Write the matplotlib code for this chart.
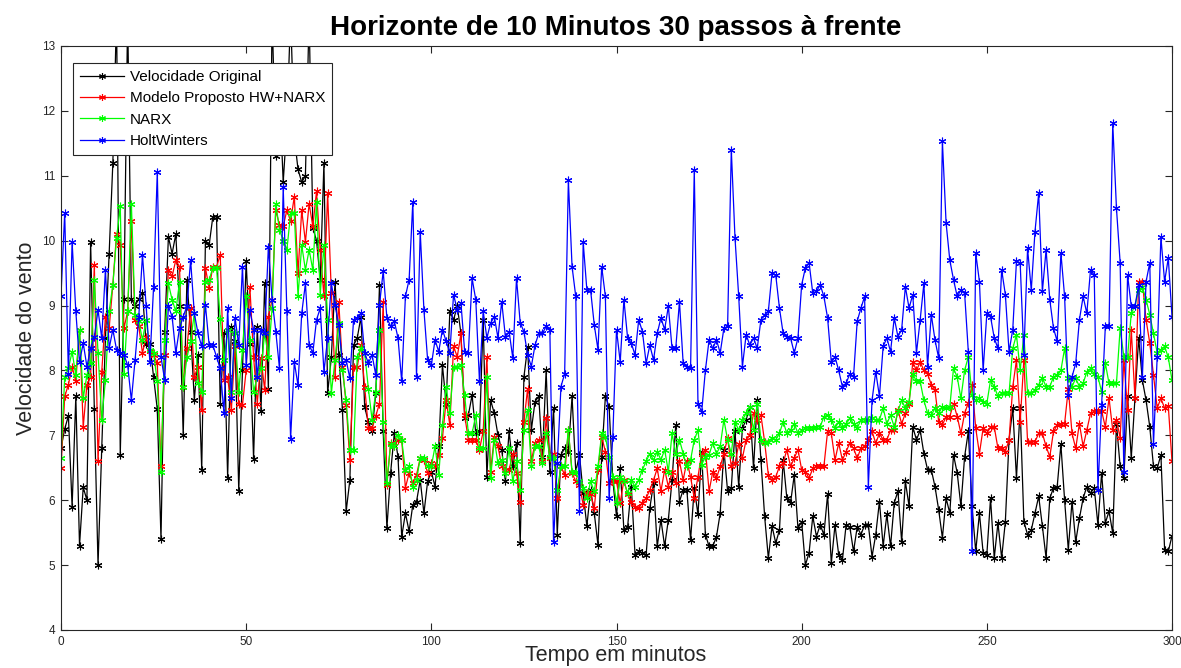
import matplotlib
matplotlib.use("Agg")
import matplotlib.pyplot as plt
import numpy as np

plt.rcParams['font.family'] = ['Liberation Sans', 'DejaVu Sans']

title = "Horizonte de 10 Minutos 30 passos à frente"
xlabel = "Tempo em minutos"
ylabel = "Velocidade do vento"
labels = ["Velocidade Original", "Modelo Proposto HW+NARX", "NARX", "HoltWinters"]
xticks = [0, 50, 100, 150, 200, 250, 300]
yticks = [4, 5, 6, 7, 8, 9, 10, 11, 12, 13]

original = [
    6.8, 7.1, 7.3, 5.9, 7.6, 5.3, 6.2, 6.0, 9.98, 7.4,
    5.0, 6.8, 8.5, 9.8, 11.2, 13.5, 6.7, 9.1, 13.5, 9.1,
    9.0, 9.1, 9.2, 8.4, 8.4, 7.9, 7.4, 5.4, 8.6, 10.06,
    9.8, 10.1, 9.0, 7.0, 9.4, 8.6, 7.55, 8.24, 6.47, 10.0,
    9.93, 10.37, 10.37, 7.48, 8.57, 6.35, 8.67, 8.46, 6.14, 8.0,
    9.68, 8.41, 6.64, 8.67, 7.37, 9.34, 7.72, 13.5, 11.3, 12.3,
    10.9, 11.8, 13.5, 11.6, 11.1, 10.9, 11.0, 13.5, 10.2, 10.0,
    9.4, 11.2, 7.65, 8.2, 9.37, 8.24, 7.39, 5.83, 6.31, 8.39,
    8.5, 8.83, 7.44, 7.2, 7.06, 7.65, 9.31, 7.06, 5.57, 6.42,
    7.03, 6.67, 5.44, 5.8, 5.52, 5.93, 5.98, 6.31, 5.8, 6.29,
    6.44, 6.21, 6.83, 8.08, 7.49, 8.91, 8.78, 8.99, 8.57, 7.26,
    7.31, 7.62, 7.03, 7.06, 8.78, 6.36, 7.54, 7.34, 7.0, 6.78,
    6.29, 7.06, 6.52, 6.88, 5.34, 7.9, 8.36, 7.08, 7.52, 7.6,
    6.67, 8.0, 6.44, 7.42, 5.47, 6.7, 6.8, 6.75, 7.6, 6.44,
    6.7, 6.11, 5.6, 6.16, 5.8, 5.31, 6.67, 7.6, 7.44, 6.31,
    5.75, 6.49, 5.54, 5.59, 6.21, 5.16, 5.21, 5.19, 5.16, 5.88,
    6.26, 5.29, 5.7, 5.29, 5.7, 6.31, 7.16, 5.98, 6.16, 6.16,
    5.39, 6.19, 5.78, 6.75, 5.47, 5.29, 5.29, 5.44, 5.8, 6.78,
    6.14, 6.19, 7.06, 6.21, 7.11, 7.24, 7.44, 6.49, 7.54, 6.62,
    5.75, 5.11, 5.6, 5.34, 5.54, 6.62, 6.03, 5.96, 6.39, 5.57,
    5.67, 5.0, 5.19, 5.75, 5.44, 5.62, 5.47, 6.09, 5.03, 5.62,
    5.16, 5.08, 5.62, 5.59, 5.21, 5.59, 5.47, 5.62, 5.62, 5.13,
    5.47, 5.98, 5.29, 5.78, 5.29, 5.96, 6.14, 5.36, 6.29, 5.91,
    7.13, 6.93, 7.08, 6.72, 6.47, 6.47, 6.21, 5.85, 5.42, 6.03,
    5.8, 6.7, 6.42, 5.91, 6.67, 7.06, 5.91, 5.21, 5.8, 5.19,
    5.16, 6.03, 5.11, 5.65, 5.11, 5.67, 6.93, 7.42, 6.34, 7.42,
    5.67, 5.47, 5.54, 5.8, 6.06, 5.6, 5.11, 6.03, 6.19, 6.21,
    6.86, 6.0, 5.24, 5.98, 5.36, 5.72, 6.03, 6.21, 6.11, 6.19,
    5.62, 6.42, 5.65, 5.83, 5.49, 7.18, 6.52, 6.34, 7.6, 6.65,
    7.57, 8.5, 7.85, 7.54, 7.13, 6.52, 6.49, 6.7, 5.24, 5.21,
    5.45,
]

hw_narx = [
    6.5, 7.6, 7.78, 8.06, 7.83, 8.63, 7.13, 7.78, 7.9, 9.63,
    6.6, 7.98, 8.83, 8.65, 9.32, 10.11, 9.93, 8.65, 8.91, 10.3,
    8.78, 8.68, 8.27, 8.52, 8.3, 8.24, 8.11, 6.52, 8.24, 9.55,
    9.45, 9.7, 9.6, 7.75, 8.34, 8.96, 7.9, 8.06, 7.39, 9.58,
    9.27, 9.6, 9.6, 9.78, 7.85, 7.9, 7.39, 8.37, 7.49, 7.47,
    8.0, 9.29, 8.21, 7.49, 8.19, 7.7, 8.83, 9.09, 10.47, 10.24,
    10.22, 10.47, 10.3, 10.68, 9.5, 10.47, 9.98, 10.57, 10.22, 10.76,
    9.86, 9.14, 10.73, 9.19, 7.9, 9.06, 8.06, 7.47, 6.62, 8.06,
    8.06, 8.39, 7.75, 7.11, 7.11, 7.3, 7.49, 9.06, 6.24, 6.88,
    6.83, 6.93, 6.93, 6.19, 6.42, 6.26, 6.39, 6.65, 6.62, 6.42,
    6.57, 6.52, 6.7, 6.96, 7.54, 7.16, 8.37, 8.21, 8.57, 7.31,
    6.93, 6.93, 6.93, 6.78, 7.06, 8.21, 6.44, 6.98, 6.83, 6.52,
    6.47, 6.47, 6.72, 6.42, 5.98, 7.21, 7.72, 6.6, 6.88, 6.93,
    6.6, 7.26, 6.65, 6.72, 6.03, 6.52, 6.39, 7.08, 6.42, 6.29,
    6.24, 5.93, 6.11, 6.09, 5.88, 6.47, 6.98, 6.75, 6.26, 6.29,
    6.29, 5.96, 6.31, 6.09, 5.98, 5.9, 5.88, 5.96, 6.03, 6.16,
    6.31, 6.49, 6.14, 6.47, 6.21, 6.44, 6.26, 6.6, 6.31, 6.6,
    6.36, 6.03, 6.36, 6.72, 6.78, 6.14, 6.44, 6.34, 6.52, 6.72,
    6.96, 6.52, 6.57, 6.86, 6.65, 6.93, 7.01, 7.34, 7.24, 7.31,
    6.9, 6.39, 6.31, 6.36, 6.52, 6.57, 6.78, 6.52, 6.65, 6.78,
    6.47, 6.44, 6.34, 6.49, 6.52, 6.52, 6.52, 7.06, 7.03, 6.62,
    6.88, 6.62, 6.75, 6.88, 6.8, 6.65, 6.8, 6.83, 6.93, 7.06,
    6.88, 7.03, 6.93, 6.93, 7.08, 7.08, 7.39, 7.18, 7.34, 7.49,
    8.13, 8.0, 8.13, 8.0, 7.95, 7.78, 7.7, 7.21, 7.16, 7.29,
    7.29, 7.49, 7.29, 7.03, 7.34, 7.5, 7.78, 7.11, 6.72, 7.11,
    7.03, 7.13, 7.13, 6.8, 6.8, 6.75, 6.93, 7.75, 8.16, 7.21,
    8.16, 6.9, 6.9, 6.9, 7.03, 7.03, 6.83, 6.67, 7.06, 7.16,
    7.18, 7.18, 7.72, 7.03, 6.8, 7.18, 6.83, 7.08, 7.34, 7.37,
    7.37, 7.37, 7.13, 7.57, 7.08, 7.24, 6.96, 8.16, 7.39, 8.63,
    7.57, 9.37, 9.37, 8.78, 8.42, 7.93, 7.42, 7.57, 7.42, 7.45,
    6.6,
]

narx = [
    6.65, 7.9, 8.03, 8.29, 7.93, 8.63, 7.57, 7.93, 8.11, 9.4,
    8.27, 7.24, 7.85, 8.91, 9.32, 10.04, 10.53, 7.95, 8.91, 10.57,
    8.86, 8.76, 8.47, 8.78, 8.32, 8.27, 7.83, 6.44, 8.47, 9.34,
    9.09, 8.91, 9.37, 7.75, 8.2, 8.45, 8.88, 7.8, 7.67, 9.37,
    9.4, 9.58, 9.58, 8.8, 8.16, 8.63, 7.67, 8.57, 7.67, 8.32,
    9.14, 8.47, 7.67, 7.9, 8.03, 8.57, 8.21, 8.96, 10.57, 10.17,
    10.0, 9.86, 10.42, 10.42, 9.14, 9.93, 9.55, 9.86, 9.55, 10.6,
    9.17, 9.93, 8.78, 7.65, 8.16, 8.73, 8.0, 7.54, 6.78, 6.78,
    8.21, 8.34, 8.27, 7.72, 7.24, 7.67, 8.63, 7.21, 6.26, 6.86,
    6.83, 7.01, 6.93, 6.47, 6.52, 6.21, 6.31, 6.65, 6.65, 6.52,
    6.52, 6.83, 6.39, 7.16, 7.75, 7.34, 8.06, 8.06, 8.08, 7.62,
    7.03, 7.03, 7.31, 6.8, 6.8, 7.9, 6.34, 6.93, 6.57, 6.62,
    6.42, 6.8, 6.29, 6.6, 6.16, 7.08, 7.39, 6.52, 6.83, 6.83,
    6.57, 7.03, 6.67, 6.65, 6.16, 6.52, 6.52, 7.08, 6.44, 6.44,
    6.29, 6.19, 6.03, 6.29, 6.14, 6.52, 7.03, 6.98, 6.67, 6.36,
    5.96, 6.36, 6.29, 6.11, 6.31, 6.21, 6.31, 6.47, 6.6, 6.72,
    6.62, 6.75, 6.62, 6.78, 6.44, 7.03, 6.72, 6.93, 6.72, 6.52,
    6.62, 6.93, 7.08, 6.55, 6.67, 6.7, 6.88, 6.72, 6.83, 7.24,
    6.93, 6.72, 7.21, 7.08, 7.24, 7.34, 7.44, 7.08, 7.49, 6.93,
    6.88, 6.9, 6.96, 6.93, 7.03, 7.21, 7.03, 7.08, 7.18, 7.03,
    7.08, 7.11, 7.11, 7.11, 7.13, 7.13, 7.29, 7.31, 7.24, 7.11,
    7.21, 7.11, 7.18, 7.26, 7.18, 7.11, 7.24, 7.24, 7.24, 7.26,
    7.24, 7.24, 7.42, 7.18, 7.31, 7.13, 7.37, 7.54, 7.42, 7.52,
    7.95, 7.83, 7.83, 7.54, 7.34, 7.31, 7.42, 7.34, 7.44, 7.42,
    7.44, 8.03, 7.9, 7.57, 8.0, 8.21, 7.62, 7.54, 7.57, 7.52,
    7.49, 7.85, 7.75, 7.6, 7.65, 7.65, 7.65, 8.34, 8.55, 8.0,
    8.55, 7.65, 7.65, 7.7, 7.78, 7.88, 7.75, 7.75, 7.9, 7.93,
    8.0, 8.34, 7.88, 7.75, 7.88, 7.75, 7.8, 7.98, 8.03, 7.95,
    7.9, 7.67, 8.11, 7.8, 7.8, 7.8, 8.65, 8.21, 8.21, 8.88,
    9.0, 9.24, 9.29, 9.09, 8.86, 8.57, 8.27, 8.32, 8.37, 8.2,
    7.85,
]

holtwinters = [
    9.15, 10.43, 7.94, 9.98, 8.91, 8.13, 8.42, 8.06, 8.34, 8.52,
    8.93, 8.5, 9.55, 8.34, 8.63, 8.32, 8.27, 8.24, 8.08, 7.54,
    8.16, 8.83, 9.78, 8.99, 8.13, 9.29, 11.06, 8.21, 7.85, 8.99,
    8.83, 8.27, 8.65, 8.83, 8.99, 9.7, 8.88, 8.57, 8.37, 9.01,
    8.39, 8.39, 8.21, 8.03, 7.34, 8.96, 7.57, 8.81, 8.39, 9.6,
    8.08, 8.93, 8.63, 7.9, 8.63, 8.57, 9.91, 9.09, 8.6, 8.03,
    10.83, 8.91, 6.95, 8.13, 7.77, 8.88, 9.34, 8.39, 8.27, 8.78,
    8.96, 7.98, 8.5, 9.34, 9.01, 8.7, 8.11, 8.16, 7.88, 8.78,
    8.81, 8.88, 8.27, 8.11, 8.24, 7.93, 9.01, 9.53, 8.81, 8.68,
    8.76, 8.5, 7.83, 9.14, 9.4, 10.6, 7.9, 10.14, 8.93, 8.16,
    8.08, 8.47, 8.29, 8.63, 8.45, 8.27, 9.17, 8.93, 9.04, 8.29,
    8.27, 9.42, 9.09, 7.83, 8.91, 8.5, 8.73, 8.83, 8.5, 9.06,
    8.52, 8.6, 8.19, 9.42, 8.73, 8.6, 8.24, 8.06, 8.39, 8.57,
    8.57, 8.68, 8.63, 5.36, 6.57, 7.75, 7.95, 10.93, 9.6, 9.14,
    5.83, 9.98, 9.24, 9.24, 8.7, 8.32, 9.6, 9.14, 6.03, 6.98,
    8.63, 8.13, 9.09, 8.5, 8.42, 8.24, 8.78, 8.6, 8.11, 8.39,
    8.16, 8.57, 8.81, 8.63, 8.99, 8.34, 8.34, 9.06, 8.11, 8.06,
    8.03, 11.09, 7.49, 7.36, 8.0, 8.47, 8.34, 8.47, 8.27, 8.65,
    8.68, 11.4, 10.04, 9.14, 8.06, 8.55, 8.39, 8.5, 8.34, 8.78,
    8.86, 8.91, 9.5, 9.47, 8.96, 8.57, 8.52, 8.5, 8.27, 8.5,
    9.32, 9.58, 9.66, 9.19, 9.22, 9.32, 9.14, 8.81, 8.13, 8.21,
    8.0, 7.75, 7.8, 7.95, 7.9, 8.76, 8.96, 9.14, 6.2, 7.54,
    7.98, 7.6, 8.37, 8.5, 8.29, 8.81, 8.52, 8.63, 9.29, 8.96,
    9.17, 8.27, 8.78, 9.34, 8.06, 8.86, 8.47, 8.19, 11.53, 10.27,
    9.7, 9.4, 9.14, 9.24, 9.19, 8.29, 5.21, 9.81, 9.37, 8.0,
    8.88, 8.83, 8.5, 8.34, 9.55, 9.17, 8.29, 8.63, 9.68, 9.66,
    8.24, 9.88, 9.24, 10.14, 10.73, 9.22, 9.86, 9.09, 8.65, 8.45,
    9.81, 9.14, 7.62, 7.9, 8.11, 8.78, 9.14, 8.88, 9.55, 9.47,
    6.16, 7.47, 8.68, 8.68, 11.81, 10.5, 9.66, 6.44, 9.47, 8.99,
    8.99, 9.32, 7.9, 9.37, 9.66, 6.86, 8.21, 10.06, 9.37, 9.73,
    8.83,
]

series = [original, hw_narx, narx, holtwinters]
colors = ['#000000', '#ff0000', '#00ff00', '#0000ff']

W, H = 1181, 668
fig = plt.figure(figsize=(W / 100, H / 100), dpi=100)
ax = fig.add_axes([61 / W, (H - 630) / H, (1172 - 61) / W, (630 - 46) / H])

for vals, c, lab in zip(series, colors, labels):
    t = np.arange(len(vals))
    ax.plot(t, vals, color=c, lw=0.9, marker=(6, 2, 0), markersize=5.5,
            markeredgewidth=0.8, label=lab)

ax.set_xlim(0, 300)
ax.set_ylim(4, 13)
ax.set_xticks(xticks)
ax.set_yticks(yticks)
ax.tick_params(direction='in', length=5, width=0.8, top=True, right=True,
               labelsize=8.5, colors='#262626', pad=4)
for s in ax.spines.values():
    s.set_color('#262626')
    s.set_linewidth(0.8)

fig.text(616 / W, 1 - 28 / H, title, ha='center', va='center',
         fontsize=20, fontweight='bold', color='black')
fig.text(616 / W, 1 - 656 / H, xlabel, ha='center', va='center',
         fontsize=15.5, color='#262626')
fig.text(27 / W, 1 - 338 / H, ylabel, ha='center', va='center',
         fontsize=15.5, color='#262626', rotation=90)

leg = ax.legend(loc='upper left', bbox_to_anchor=(12 / 1111, 1 - 17 / 584),
                fontsize=11, frameon=True, fancybox=False, framealpha=1.0,
                borderpad=0.45, labelspacing=0.48, handlelength=2.9,
                handletextpad=0.35, borderaxespad=0.0)
leg.get_frame().set_edgecolor('#262626')
leg.get_frame().set_linewidth(0.8)
leg.set_zorder(10)
for h in leg.legend_handles:
    h.set_markersize(5)

fig.savefig('out.png', dpi=100)
